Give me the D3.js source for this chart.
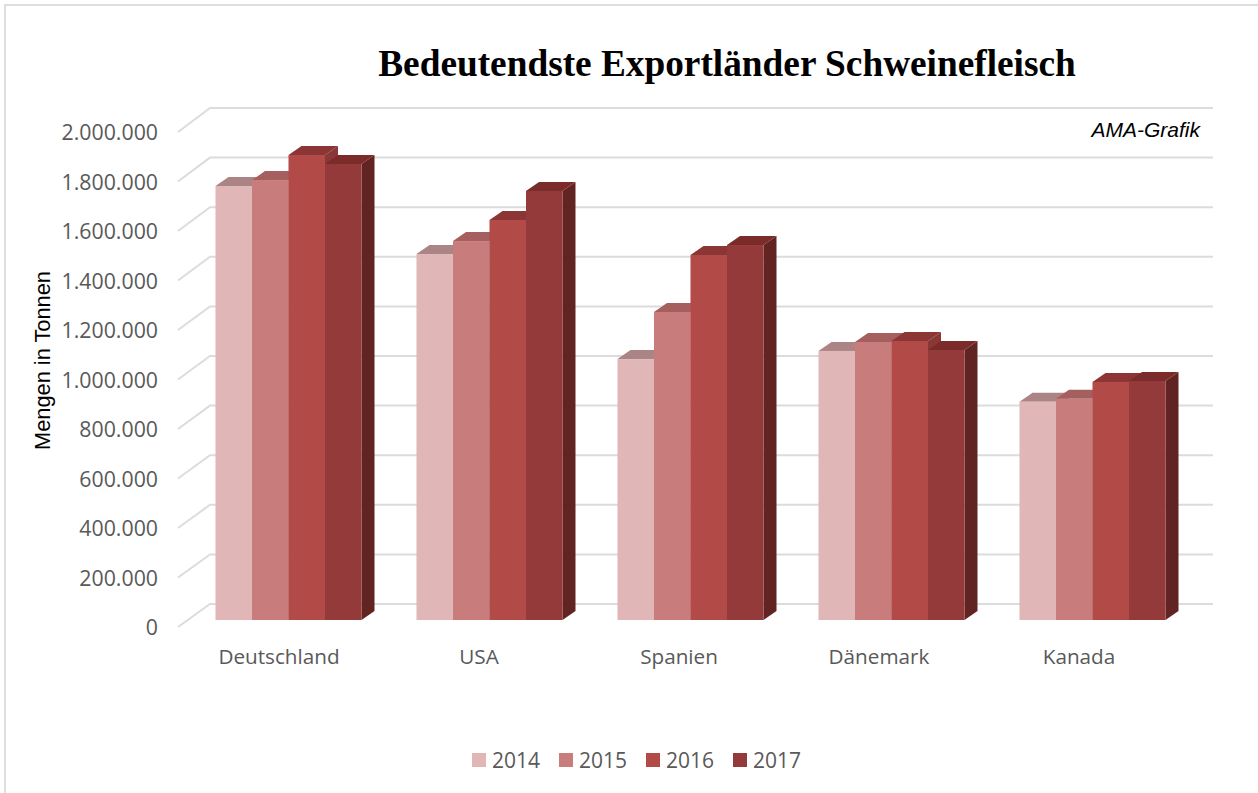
<!DOCTYPE html>
<html>
<head>
<meta charset="utf-8">
<script src="https://cdnjs.cloudflare.com/ajax/libs/d3/7.8.5/d3.min.js"></script>
<style>
  html, body { margin: 0; padding: 0; background: #fff; }
  svg { display: block; }
</style>
</head>
<body>
<div id="chart"></div>
<script>
var categories = ["Deutschland", "USA", "Spanien", "Dänemark", "Kanada"];
var years = ["2014", "2015", "2016", "2017"];
var v2014 = [1750000, 1476000, 1052000, 1085000, 880000];
var v2015 = [1774000, 1528000, 1242000, 1121000, 892000];
var v2016 = [1875000, 1613000, 1472000, 1125000, 960000];
var v2017 = [1839000, 1730000, 1512000, 1089000, 964000];
var yTicks = [0, 200000, 400000, 600000, 800000, 1000000, 1200000, 1400000, 1600000, 1800000, 2000000];

var series = [v2014, v2015, v2016, v2017];
var front = ["#e0b6b6", "#c87d7c", "#b24a48", "#953a3a"];
var top_ = ["#ab8585", "#a55f5f", "#8b3634", "#7a2b2a"];
var side = ["#b48f8f", "#a06362", "#8a3836", "#622423"];

var width = 1258, height = 793;

var svg = d3.select("#chart").append("svg")
  .attr("width", width)
  .attr("height", height);

// frame
svg.append("path")
  .attr("d", "M5,793V5H1258")
  .attr("fill", "none")
  .attr("stroke", "#dedede")
  .attr("stroke-width", 2);

// front of the floor, back wall and bar plane each use the same value range
var yFront = d3.scaleLinear().domain([0, 2000000]).range([627, 132]);
var yBack = d3.scaleLinear().domain([0, 2000000]).range([604, 108]);
var yBar = d3.scaleLinear().domain([0, 2000000]).range([620, 124]);

var xAxis = d3.scaleBand().domain(categories).range([179, 1179]);
var xBar = d3.scaleBand().domain(categories).range([188, 1193]);
var xSeries = d3.scaleBand().domain(d3.range(4)).range([0, 146]);

var depthX = 13, depthY = 9;
var gridLeft = 178, wallLeft = 210, wallRight = 1213;

// gridlines
var grid = svg.append("g").attr("fill", "none").attr("stroke", "#dcdcdc").attr("stroke-width", 2);
yTicks.forEach(function(t) {
  var path = d3.path();
  path.moveTo(gridLeft, yFront(t));
  path.lineTo(wallLeft, yBack(t));
  path.lineTo(wallRight, yBack(t));
  grid.append("path").attr("d", path.toString());
});

// tick labels
svg.append("g")
  .selectAll("text")
  .data(yTicks)
  .join("text")
  .attr("x", 158)
  .attr("y", function(d) { return yFront(d) + 1; })
  .attr("dy", "0.35em")
  .attr("text-anchor", "end")
  .attr("font-family", "'Open Sans', sans-serif")
  .attr("font-size", 21.3)
  .attr("fill", "#595959")
  .text(function(d) { return d3.format(",")(d).replace(/,/g, "."); });

// category labels
svg.append("g")
  .selectAll("text")
  .data(categories)
  .join("text")
  .attr("x", function(d) { return xAxis(d) + xAxis.bandwidth() / 2; })
  .attr("y", 664)
  .attr("text-anchor", "middle")
  .attr("font-family", "'Open Sans', sans-serif")
  .attr("font-size", 20.7)
  .attr("fill", "#595959")
  .text(function(d) { return d; });

// bars, left to right so that the next front face covers the side of the last
categories.forEach(function(cat, c) {
  var x0 = xBar(cat) + (xBar.bandwidth() - 146) / 2;
  series.forEach(function(values, s) {
    var x = x0 + xSeries(s), w = xSeries.bandwidth();
    var yt = yBar(values[c]), yb = yBar(0);
    var g = svg.append("g");
    g.append("path")
      .attr("fill", side[s])
      .attr("d", "M" + (x + w) + "," + yt + "L" + (x + w + depthX) + "," + (yt - depthY) +
        "L" + (x + w + depthX) + "," + (yb - depthY) + "L" + (x + w) + "," + yb + "Z");
    g.append("path")
      .attr("fill", top_[s])
      .attr("d", "M" + x + "," + yt + "L" + (x + depthX) + "," + (yt - depthY) +
        "L" + (x + w + depthX) + "," + (yt - depthY) + "L" + (x + w) + "," + yt + "Z");
    g.append("rect")
      .attr("x", x).attr("y", yt)
      .attr("width", w).attr("height", yb - yt)
      .attr("fill", front[s]);
  });
});

// title
svg.append("text")
  .attr("x", 727)
  .attr("y", 76)
  .attr("text-anchor", "middle")
  .attr("font-family", "'Liberation Serif', serif")
  .attr("font-weight", "bold")
  .attr("font-size", 37.3)
  .attr("fill", "#000")
  .text("Bedeutendste Exportländer Schweinefleisch");

svg.append("text")
  .attr("x", 1200)
  .attr("y", 137)
  .attr("text-anchor", "end")
  .attr("font-family", "'Liberation Sans', sans-serif")
  .attr("font-style", "italic")
  .attr("font-size", 21)
  .attr("fill", "#000")
  .text("AMA-Grafik");

svg.append("text")
  .attr("transform", "translate(50,360.5) rotate(-90)")
  .attr("text-anchor", "middle")
  .attr("font-family", "'Liberation Sans', sans-serif")
  .attr("font-size", 21.8)
  .attr("fill", "#000")
  .text("Mengen in Tonnen");

// legend
var legendX = d3.scalePoint().domain(years).range([472, 733]);
var legend = svg.append("g").selectAll("g").data(years).join("g")
  .attr("transform", function(d) { return "translate(" + legendX(d) + ",753)"; });
legend.append("rect")
  .attr("width", 14).attr("height", 14)
  .attr("fill", function(d, i) { return front[i]; });
legend.append("text")
  .attr("x", 20).attr("y", 14.5)
  .attr("font-family", "'Open Sans', sans-serif")
  .attr("font-size", 21)
  .attr("fill", "#595959")
  .text(function(d) { return d; });
</script>
</body>
</html>
